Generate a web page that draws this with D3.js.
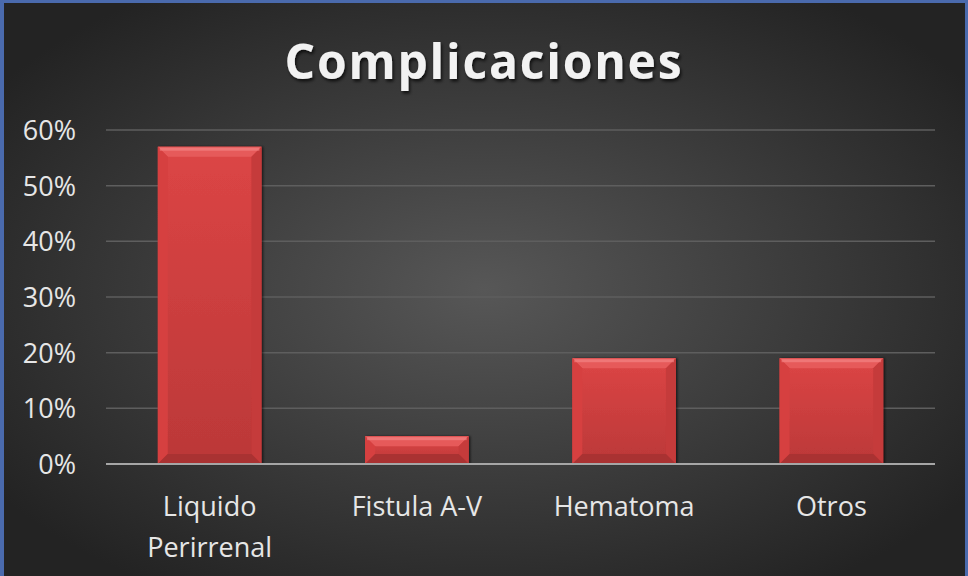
<!DOCTYPE html>
<html>
<head>
<meta charset="utf-8">
<script src="https://cdn.jsdelivr.net/npm/d3@7"></script>
<style>
  html, body { margin: 0; padding: 0; background: #2a2a2a; }
  #chart { width: 968px; height: 576px; }
  .axis text { fill: #e6e6e6; font-family: "Open Sans", sans-serif; }
</style>
</head>
<body>
<div id="chart"></div>
<script>
const categories = [["Liquido", "Perirrenal"], ["Fistula A-V"], ["Hematoma"], ["Otros"]];
const values = [0.57, 0.05, 0.19, 0.19];
const yTicks = [0, 0.1, 0.2, 0.3, 0.4, 0.5, 0.6];
const title = "Complicaciones";

const W = 968, H = 576;
const margin = { top: 130, right: 33, bottom: 112, left: 106 };
const width = W - margin.left - margin.right;
const height = H - margin.top - margin.bottom;

const svg = d3.select("#chart").append("svg")
  .attr("width", W)
  .attr("height", H);

const defs = svg.append("defs");

// background: dark radial glow
const bg = defs.append("radialGradient")
  .attr("id", "bg")
  .attr("cx", "50%").attr("cy", "50%").attr("r", "62%");
bg.append("stop").attr("offset", "0%").attr("stop-color", "#575757");
bg.append("stop").attr("offset", "100%").attr("stop-color", "#232323");

const barGrad = defs.append("linearGradient")
  .attr("id", "barGrad")
  .attr("x1", 0).attr("y1", 0).attr("x2", 0).attr("y2", 1);
barGrad.append("stop").attr("offset", "0%").attr("stop-color", "#dc4545");
barGrad.append("stop").attr("offset", "100%").attr("stop-color", "#bb3838");

const shadow = defs.append("filter").attr("id", "txtShadow")
  .attr("x", "-10%").attr("y", "-20%").attr("width", "120%").attr("height", "150%");
shadow.append("feDropShadow")
  .attr("dx", 1.5).attr("dy", 2.5).attr("stdDeviation", 1.5)
  .attr("flood-color", "#000").attr("flood-opacity", 0.7);

const barShadow = defs.append("filter").attr("id", "barShadow")
  .attr("x", "-10%").attr("y", "-10%").attr("width", "120%").attr("height", "120%");
barShadow.append("feDropShadow")
  .attr("dx", 1.5).attr("dy", 0).attr("stdDeviation", 1)
  .attr("flood-color", "#000").attr("flood-opacity", 0.6);

// frame + background
svg.append("rect")
  .attr("width", W).attr("height", H)
  .attr("fill", "#4a6aad");
svg.append("rect")
  .attr("x", 4).attr("y", 3)
  .attr("width", W - 7).attr("height", H - 3)
  .attr("fill", "url(#bg)");

svg.append("text")
  .attr("x", W / 2)
  .attr("y", 79)
  .attr("text-anchor", "middle")
  .attr("fill", "#f2f2f2")
  .attr("filter", "url(#txtShadow)")
  .style("font-family", "'Open Sans', sans-serif")
  .style("font-weight", "700")
  .style("font-size", "48px")
  .style("letter-spacing", "1.8px")
  .text(title);

const g = svg.append("g")
  .attr("transform", "translate(" + margin.left + "," + margin.top + ")");

const xScale = d3.scaleBand()
  .domain(d3.range(categories.length))
  .range([0, width])
  .paddingInner(0.5)
  .paddingOuter(0.25);

const yScale = d3.scaleLinear()
  .domain([0, 0.6])
  .range([height, 0]);

// gridlines
g.append("g")
  .selectAll("line")
  .data(yTicks.filter(d => d > 0))
  .enter().append("line")
  .attr("x1", 0).attr("x2", width)
  .attr("y1", d => yScale(d)).attr("y2", d => yScale(d))
  .attr("stroke", "#5e5e5e")
  .attr("stroke-width", 1.5);

// y axis labels
const yAxis = g.append("g")
  .attr("class", "axis")
  .call(d3.axisLeft(yScale).tickValues(yTicks).tickFormat(d3.format(".0%")).tickSize(0).tickPadding(30));
yAxis.select(".domain").remove();
yAxis.selectAll("text").style("font-size", "27px").attr("dy", "0.35em");

// bars
const bevel = 10;
const bars = g.selectAll(".bar").data(values).enter().append("g")
  .attr("class", "bar")
  .attr("filter", "url(#barShadow)");

bars.each(function (d, i) {
  const x0 = xScale(i);
  const bw = xScale.bandwidth();
  const y0 = yScale(d);
  const y1 = yScale(0);
  const sel = d3.select(this);
  const b = Math.min(bevel, (y1 - y0) / 2);
  sel.append("rect")
    .attr("x", x0).attr("y", y0)
    .attr("width", bw).attr("height", y1 - y0)
    .attr("fill", "url(#barGrad)");
  // top bevel
  sel.append("polygon")
    .attr("points", [[x0, y0], [x0 + bw, y0], [x0 + bw - b, y0 + b], [x0 + b, y0 + b]].join(" "))
    .attr("fill", "#e65a5a");
  // left bevel
  sel.append("polygon")
    .attr("points", [[x0, y0], [x0 + b, y0 + b], [x0 + b, y1 - b], [x0, y1]].join(" "))
    .attr("fill", "#d64040");
  // right bevel
  sel.append("polygon")
    .attr("points", [[x0 + bw, y0], [x0 + bw - b, y0 + b], [x0 + bw - b, y1 - b], [x0 + bw, y1]].join(" "))
    .attr("fill", "#c53a3a");
  // bottom bevel
  sel.append("polygon")
    .attr("points", [[x0, y1], [x0 + b, y1 - b], [x0 + bw - b, y1 - b], [x0 + bw, y1]].join(" "))
    .attr("fill", "#a93030");
  // highlight on top edge
  sel.append("rect")
    .attr("x", x0 + 2).attr("y", y0 + 1)
    .attr("width", bw - 4).attr("height", 3)
    .attr("fill", "#f58a8a").attr("opacity", 0.6);
});

// x baseline
g.append("line")
  .attr("x1", 0).attr("x2", width)
  .attr("y1", height).attr("y2", height)
  .attr("stroke", "#a6a6a6")
  .attr("stroke-width", 2);

// x labels
const xAxis = g.append("g")
  .attr("class", "axis")
  .attr("transform", "translate(0," + height + ")");
categories.forEach((lines, i) => {
  const t = xAxis.append("text")
    .attr("x", xScale(i) + xScale.bandwidth() / 2)
    .attr("y", 52)
    .attr("text-anchor", "middle")
    .style("font-size", "27px");
  lines.forEach((ln, k) => {
    t.append("tspan")
      .attr("x", xScale(i) + xScale.bandwidth() / 2)
      .attr("dy", k === 0 ? 0 : 41)
      .text(ln);
  });
});
</script>
</body>
</html>
